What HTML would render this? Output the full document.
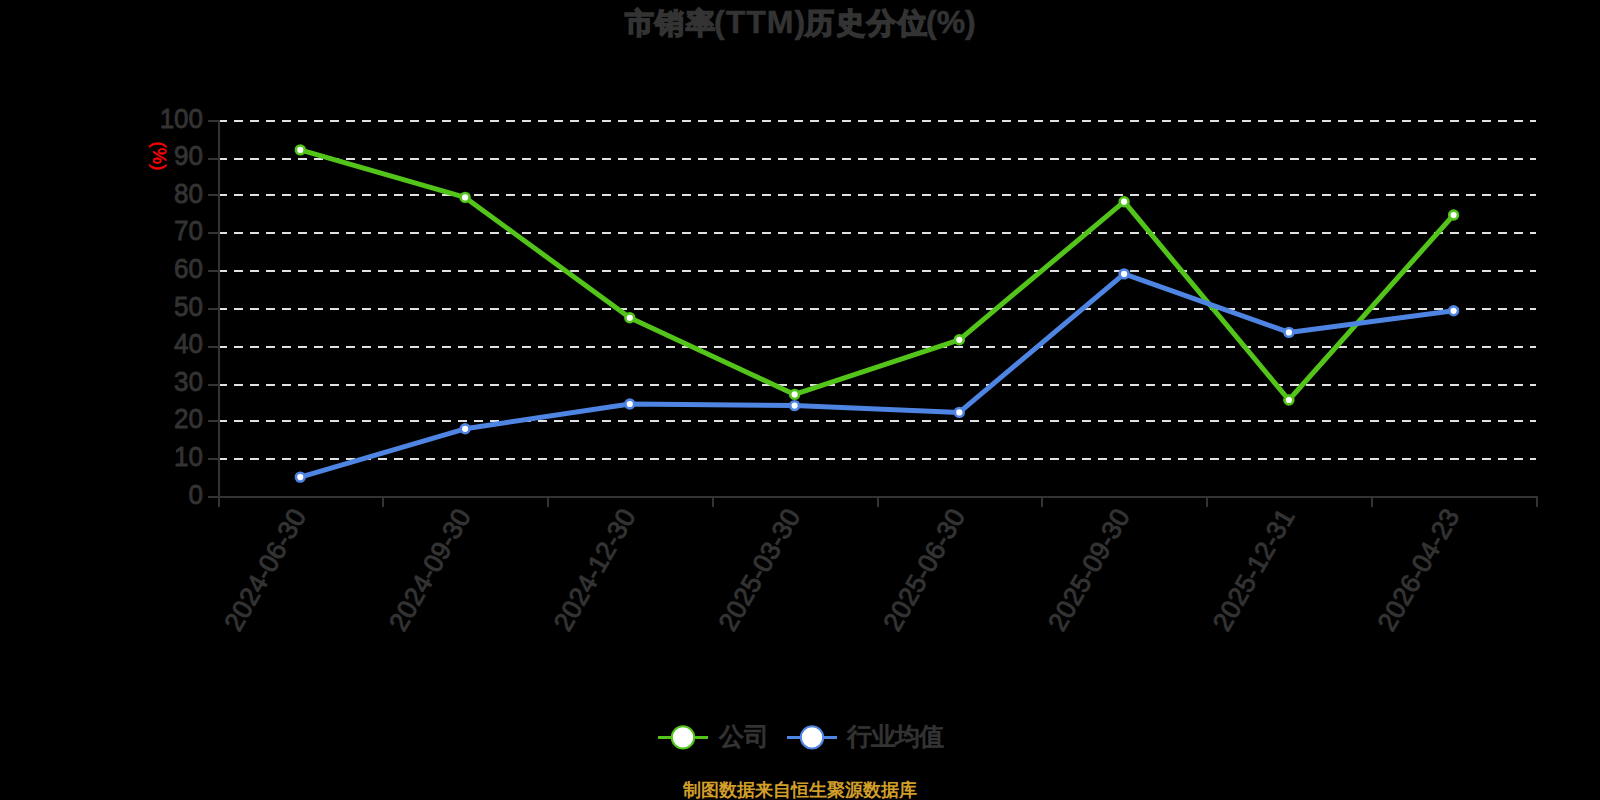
<!DOCTYPE html>
<html><head><meta charset="utf-8"><style>
html,body{margin:0;padding:0;background:#000;width:1600px;height:800px;overflow:hidden}
svg{display:block}
text{font-family:"Liberation Sans",sans-serif}
.yl{font-size:26px;fill:#333;stroke:#333;stroke-width:0.8px}
.xl{font-size:26.5px;fill:#333;stroke:#333;stroke-width:0.9px}
.lg{font-size:25px;fill:#333;stroke:#333;stroke-width:1.1px}
.tc{font-size:28.5px;font-weight:bold;fill:#333;stroke:#333;stroke-width:1.6px}
.tl{font-size:32px;font-weight:bold;fill:#333;stroke:#333;stroke-width:0.5px}
.ft{font-size:18px;font-weight:bold;fill:#d29e2a}
.pc{font-size:18.5px;fill:#f00;stroke:#f00;stroke-width:0.5px}
</style></head><body>
<svg width="1600" height="800" viewBox="0 0 1600 800">
<rect width="1600" height="800" fill="#000"/>
<line x1="218" y1="121" x2="1536" y2="121" stroke="#e0e0e0" stroke-width="2" stroke-dasharray="9 7"/>
<line x1="218" y1="159" x2="1536" y2="159" stroke="#e0e0e0" stroke-width="2" stroke-dasharray="9 7"/>
<line x1="218" y1="195" x2="1536" y2="195" stroke="#e0e0e0" stroke-width="2" stroke-dasharray="9 7"/>
<line x1="218" y1="233" x2="1536" y2="233" stroke="#e0e0e0" stroke-width="2" stroke-dasharray="9 7"/>
<line x1="218" y1="271" x2="1536" y2="271" stroke="#e0e0e0" stroke-width="2" stroke-dasharray="9 7"/>
<line x1="218" y1="309" x2="1536" y2="309" stroke="#e0e0e0" stroke-width="2" stroke-dasharray="9 7"/>
<line x1="218" y1="347" x2="1536" y2="347" stroke="#e0e0e0" stroke-width="2" stroke-dasharray="9 7"/>
<line x1="218" y1="385" x2="1536" y2="385" stroke="#e0e0e0" stroke-width="2" stroke-dasharray="9 7"/>
<line x1="218" y1="421" x2="1536" y2="421" stroke="#e0e0e0" stroke-width="2" stroke-dasharray="9 7"/>
<line x1="218" y1="459" x2="1536" y2="459" stroke="#e0e0e0" stroke-width="2" stroke-dasharray="9 7"/>
<line x1="219" y1="120" x2="219" y2="498" stroke="#333" stroke-width="2"/>
<line x1="208" y1="121" x2="219" y2="121" stroke="#333" stroke-width="2"/>
<line x1="208" y1="159" x2="219" y2="159" stroke="#333" stroke-width="2"/>
<line x1="208" y1="195" x2="219" y2="195" stroke="#333" stroke-width="2"/>
<line x1="208" y1="233" x2="219" y2="233" stroke="#333" stroke-width="2"/>
<line x1="208" y1="271" x2="219" y2="271" stroke="#333" stroke-width="2"/>
<line x1="208" y1="309" x2="219" y2="309" stroke="#333" stroke-width="2"/>
<line x1="208" y1="347" x2="219" y2="347" stroke="#333" stroke-width="2"/>
<line x1="208" y1="385" x2="219" y2="385" stroke="#333" stroke-width="2"/>
<line x1="208" y1="421" x2="219" y2="421" stroke="#333" stroke-width="2"/>
<line x1="208" y1="459" x2="219" y2="459" stroke="#333" stroke-width="2"/>
<line x1="208" y1="497" x2="219" y2="497" stroke="#333" stroke-width="2"/>
<line x1="218" y1="497" x2="1538" y2="497" stroke="#333" stroke-width="2"/>
<line x1="219" y1="496" x2="219" y2="507" stroke="#333" stroke-width="2"/>
<line x1="383" y1="496" x2="383" y2="507" stroke="#333" stroke-width="2"/>
<line x1="548" y1="496" x2="548" y2="507" stroke="#333" stroke-width="2"/>
<line x1="713" y1="496" x2="713" y2="507" stroke="#333" stroke-width="2"/>
<line x1="878" y1="496" x2="878" y2="507" stroke="#333" stroke-width="2"/>
<line x1="1042" y1="496" x2="1042" y2="507" stroke="#333" stroke-width="2"/>
<line x1="1207" y1="496" x2="1207" y2="507" stroke="#333" stroke-width="2"/>
<line x1="1372" y1="496" x2="1372" y2="507" stroke="#333" stroke-width="2"/>
<line x1="1537" y1="496" x2="1537" y2="507" stroke="#333" stroke-width="2"/>
<text transform="translate(203,127.5) scale(1,1.08)" text-anchor="end" class="yl">100</text>
<text transform="translate(203,165.1) scale(1,1.08)" text-anchor="end" class="yl">90</text>
<text transform="translate(203,202.7) scale(1,1.08)" text-anchor="end" class="yl">80</text>
<text transform="translate(203,240.3) scale(1,1.08)" text-anchor="end" class="yl">70</text>
<text transform="translate(203,277.9) scale(1,1.08)" text-anchor="end" class="yl">60</text>
<text transform="translate(203,315.5) scale(1,1.08)" text-anchor="end" class="yl">50</text>
<text transform="translate(203,353.1) scale(1,1.08)" text-anchor="end" class="yl">40</text>
<text transform="translate(203,390.7) scale(1,1.08)" text-anchor="end" class="yl">30</text>
<text transform="translate(203,428.3) scale(1,1.08)" text-anchor="end" class="yl">20</text>
<text transform="translate(203,465.9) scale(1,1.08)" text-anchor="end" class="yl">10</text>
<text transform="translate(203,503.5) scale(1,1.08)" text-anchor="end" class="yl">0</text>
<text transform="translate(306.8,515.5) rotate(-60)" text-anchor="end" class="xl">2024-06-30</text>
<text transform="translate(471.56,515.5) rotate(-60)" text-anchor="end" class="xl">2024-09-30</text>
<text transform="translate(636.3199999999999,515.5) rotate(-60)" text-anchor="end" class="xl">2024-12-30</text>
<text transform="translate(801.0799999999999,515.5) rotate(-60)" text-anchor="end" class="xl">2025-03-30</text>
<text transform="translate(965.8399999999999,515.5) rotate(-60)" text-anchor="end" class="xl">2025-06-30</text>
<text transform="translate(1130.6,515.5) rotate(-60)" text-anchor="end" class="xl">2025-09-30</text>
<text transform="translate(1295.36,515.5) rotate(-60)" text-anchor="end" class="xl">2025-12-31</text>
<text transform="translate(1460.12,515.5) rotate(-60)" text-anchor="end" class="xl">2026-04-23</text>
<polyline points="300.3,149.9 465.1,197.4 629.8,317.8 794.6,394.4 959.3,339.8 1124.1,201.7 1288.9,400.0 1453.6,215.0" fill="none" stroke="#52c41a" stroke-width="5" stroke-linejoin="round"/>
<polyline points="300.3,477.1 465.1,428.8 629.8,404.0 794.6,405.6 959.3,412.4 1124.1,273.9 1288.9,332.4 1453.6,310.8" fill="none" stroke="#4e84e2" stroke-width="5" stroke-linejoin="round"/>
<circle cx="300.3" cy="149.9" r="4.4" fill="#fff" stroke="#52c41a" stroke-width="2.6"/>
<circle cx="465.1" cy="197.4" r="4.4" fill="#fff" stroke="#52c41a" stroke-width="2.6"/>
<circle cx="629.8" cy="317.8" r="4.4" fill="#fff" stroke="#52c41a" stroke-width="2.6"/>
<circle cx="794.6" cy="394.4" r="4.4" fill="#fff" stroke="#52c41a" stroke-width="2.6"/>
<circle cx="959.3" cy="339.8" r="4.4" fill="#fff" stroke="#52c41a" stroke-width="2.6"/>
<circle cx="1124.1" cy="201.7" r="4.4" fill="#fff" stroke="#52c41a" stroke-width="2.6"/>
<circle cx="1288.9" cy="400.0" r="4.4" fill="#fff" stroke="#52c41a" stroke-width="2.6"/>
<circle cx="1453.6" cy="215.0" r="4.4" fill="#fff" stroke="#52c41a" stroke-width="2.6"/>
<circle cx="300.3" cy="477.1" r="4.4" fill="#fff" stroke="#4e84e2" stroke-width="2.6"/>
<circle cx="465.1" cy="428.8" r="4.4" fill="#fff" stroke="#4e84e2" stroke-width="2.6"/>
<circle cx="629.8" cy="404.0" r="4.4" fill="#fff" stroke="#4e84e2" stroke-width="2.6"/>
<circle cx="794.6" cy="405.6" r="4.4" fill="#fff" stroke="#4e84e2" stroke-width="2.6"/>
<circle cx="959.3" cy="412.4" r="4.4" fill="#fff" stroke="#4e84e2" stroke-width="2.6"/>
<circle cx="1124.1" cy="273.9" r="4.4" fill="#fff" stroke="#4e84e2" stroke-width="2.6"/>
<circle cx="1288.9" cy="332.4" r="4.4" fill="#fff" stroke="#4e84e2" stroke-width="2.6"/>
<circle cx="1453.6" cy="310.8" r="4.4" fill="#fff" stroke="#4e84e2" stroke-width="2.6"/>
<line x1="658" y1="737.5" x2="708" y2="737.5" stroke="#52c41a" stroke-width="3"/>
<circle cx="683" cy="737.4" r="11.2" fill="#fff" stroke="#52c41a" stroke-width="2"/>
<text x="719" y="745" class="lg">公司</text>
<line x1="787" y1="737.5" x2="837" y2="737.5" stroke="#4e84e2" stroke-width="3"/>
<circle cx="812" cy="737.4" r="11.2" fill="#fff" stroke="#4e84e2" stroke-width="2"/>
<text x="847" y="745" class="lg" letter-spacing="-1">行业均值</text>
<text x="624.5" y="33" class="tc" letter-spacing="1.5">市销率</text>
<text x="714" y="32.5" class="tl" letter-spacing="1">(TTM)</text>
<text x="805" y="33" class="tc" letter-spacing="2">历史分位</text>
<text x="926" y="33" class="tl" letter-spacing="0">(%)</text>
<text x="800" y="796" text-anchor="middle" class="ft">制图数据来自恒生聚源数据库</text>
<text transform="translate(152.5,156) rotate(90)" text-anchor="middle" class="pc">(%)</text>
</svg>
</body></html>
